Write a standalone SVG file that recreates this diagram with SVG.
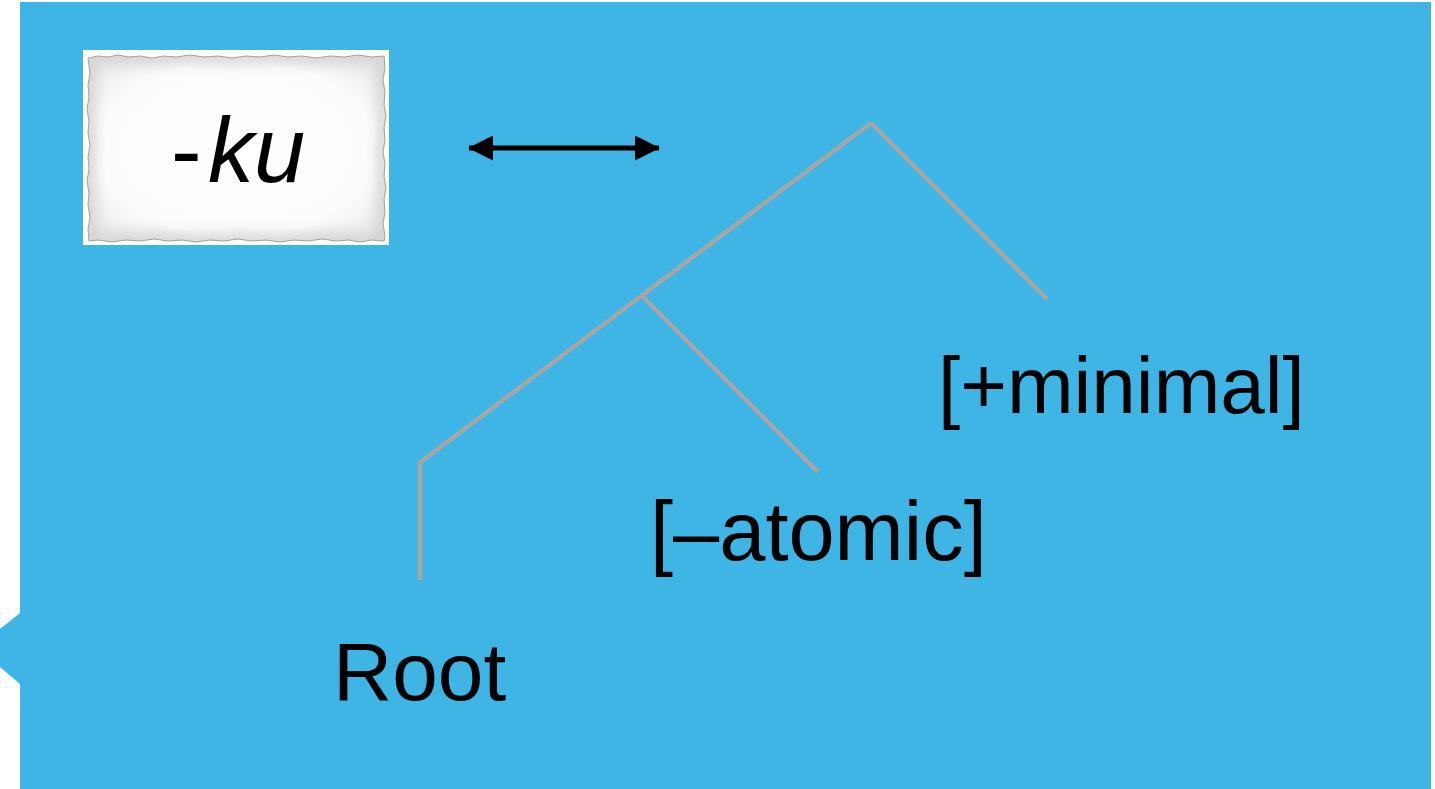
<svg xmlns="http://www.w3.org/2000/svg" width="1435" height="789" viewBox="0 0 1435 789">
  <style>
    .label { font-family: "Liberation Sans", Arial, Helvetica, sans-serif; fill: #000; }
    .branch { stroke: #a6a6a6; stroke-width: 4.5; fill: none; stroke-linecap: butt; stroke-linejoin: miter; }
    .arrow { stroke: #000; stroke-width: 5; fill: none; }
  </style>
  <defs>
    <marker id="head" viewBox="0 0 25 25" refX="24" refY="12.5" markerWidth="25" markerHeight="25" markerUnits="userSpaceOnUse" orient="auto-start-reverse">
      <path d="M0,0 L25,12.5 L0,25 Z" fill="#000"/>
    </marker>
    <path id="paperEdge" d="M88,58 L98,56 L108,57 L118,55 L128,57 L140,56 L152,58 L164,56 L176,57 L190,55 L204,57 L218,56 L232,58 L246,56 L260,57 L274,55 L288,57 L302,56 L316,58 L330,56 L344,57 L358,55 L372,57 L384,56 L385,68 L383,80 L385,92 L384,104 L386,116 L384,128 L385,140 L383,152 L385,164 L384,176 L386,188 L384,200 L385,212 L383,224 L385,236 L384,241 L372,240 L360,242 L348,240 L336,241 L322,239 L308,241 L294,240 L280,242 L266,240 L252,241 L238,239 L224,241 L210,240 L196,242 L182,240 L168,241 L154,239 L140,241 L126,240 L112,242 L98,240 L89,241 L88,229 L90,217 L88,205 L89,193 L87,181 L89,169 L88,157 L90,145 L88,133 L89,121 L87,109 L89,97 L88,85 L90,73 Z"/>
    <clipPath id="paperClip"><use href="#paperEdge"/></clipPath>
    <filter id="soft" x="-20%" y="-20%" width="140%" height="140%">
      <feGaussianBlur stdDeviation="7"/>
    </filter>
    <radialGradient id="paperShade" cx="50%" cy="50%" r="62%">
      <stop offset="0%" stop-color="#ffffff"/>
      <stop offset="75%" stop-color="#fcfcfc"/>
      <stop offset="100%" stop-color="#ebebeb"/>
    </radialGradient>
  </defs>

  <!-- page background -->
  <rect x="0" y="0" width="1435" height="789" fill="#ffffff"/>
  <!-- blue callout panel with a small pointer on the left edge -->
  <path id="panel" d="M20,2 L1431,2 L1431,789 L20,789 L20,684 L0,667 L0,629 L20,613 Z" fill="#3eb5e5"/>

  <!-- morpheme card -->
  <g id="card-ku">
    <rect x="83" y="50" width="306" height="195" fill="#ffffff"/>
    <g clip-path="url(#paperClip)">
      <use href="#paperEdge" fill="url(#paperShade)"/>
      <use href="#paperEdge" fill="none" stroke="#cfcfcf" stroke-width="12" filter="url(#soft)"/>
    </g>
    <use href="#paperEdge" fill="none" stroke="#a0a0a0" stroke-width="1"/>
    <text class="label" x="171" y="182" font-size="92">-<tspan x="208" font-style="italic">ku</tspan></text>
  </g>

  <!-- connectors -->
  <g id="connectors">
    <line id="arrow-link" class="arrow" x1="469" y1="148" x2="659" y2="148" marker-start="url(#head)" marker-end="url(#head)"/>
    <line id="top-right" class="branch" x1="871" y1="123" x2="1047" y2="299"/>
    <line id="top-left" class="branch" x1="871" y1="123" x2="418" y2="464"/>
    <line id="mid-right" class="branch" x1="642" y1="296" x2="818" y2="472"/>
    <line id="root-stem" class="branch" x1="420" y1="462" x2="420" y2="580"/>
  </g>

  <!-- tree node labels -->
  <g id="node-minimal">
    <text class="label" x="938" y="413" font-size="80">[+minimal]</text>
  </g>
  <g id="node-atomic">
    <text class="label" x="650" y="560" font-size="83">[–atomic]</text>
  </g>
  <g id="node-root">
    <text class="label" x="333" y="700" font-size="82">Root</text>
  </g>
</svg>
